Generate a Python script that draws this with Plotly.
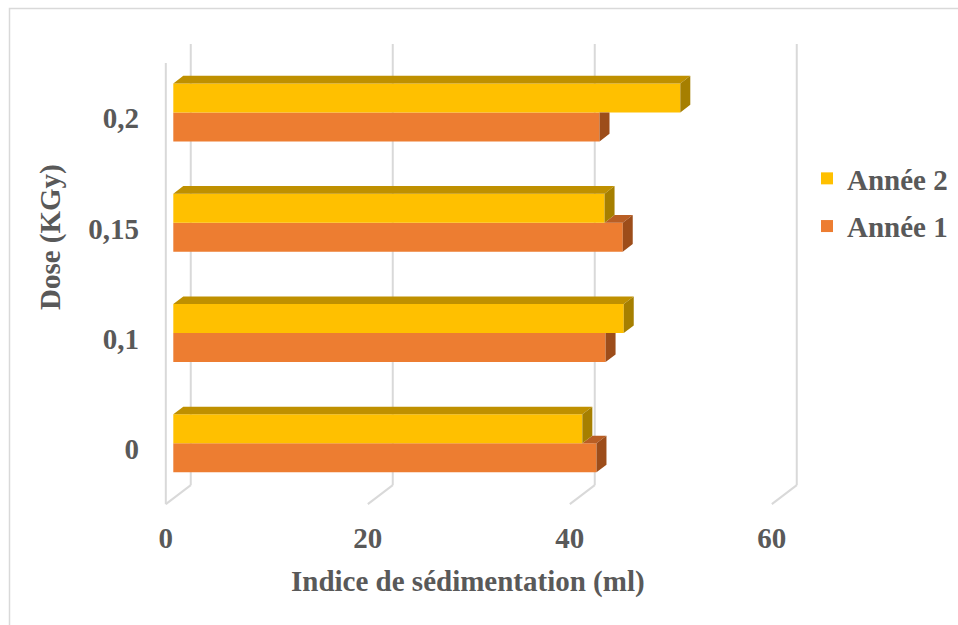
import plotly.graph_objects as go

# Sedimentation index (ml) by irradiation dose, two harvest years
doses = ["0", "0,1", "0,15", "0,2"]
annee_1 = [41.9, 42.8, 44.5, 42.2]
annee_2 = [40.5, 44.6, 42.7, 50.2]
x_ticks = [0, 20, 40, 60]

FONT = "Liberation Serif, Times New Roman, serif"
TEXT = "#595959"
GRID = "#D9D9D9"
W, H = 958, 625

# plot-area frame (pixels) and scale of the bar plane
L, R, T, B = 150, 820, 30, 515
X0_PX, X_PX = 173.3, 10.1    # pixel of x=0, pixels per ml
Y0_PX, Y_PX = 443.3, 110.3   # pixel of first dose, pixels per dose slot

x_range = [(L - X0_PX) / X_PX, (R - X0_PX) / X_PX]
y_range = [(Y0_PX - B) / Y_PX, (Y0_PX - T) / Y_PX]

# 3D box: depth vector from the front floor edge to the back wall (data units)
DEPTH_X, DEPTH_Y = 2.47, 0.172
FRONT, BACK, BAR_DEPTH = -0.3, 0.7, 0.4
THICK = 0.263                      # thickness of one bar
FLOOR, TOP = -0.5, len(doses) - 0.5

bdx, bdy = BAR_DEPTH * DEPTH_X, BAR_DEPTH * DEPTH_Y
pos = list(range(len(doses)))

C1, C1_TOP, C1_SIDE = "#ED7D31", "#B95E24", "#9D4D1A"
C2, C2_TOP, C2_SIDE = "#FFC000", "#BF9000", "#A67F00"


def px_to_paper(px, py):
    return (px - L) / (R - L), (B - py) / (B - T)


fig = go.Figure()

# front faces
fig.add_trace(go.Bar(y=pos, x=annee_1, orientation="h", name="Année 1",
                     marker=dict(color=C1, line=dict(width=0)),
                     legendgroup="a1", legendrank=2, hoverinfo="x+name"))
fig.add_trace(go.Bar(y=pos, x=annee_2, orientation="h", name="Année 2",
                     marker=dict(color=C2, line=dict(width=0)),
                     legendgroup="a2", legendrank=1, hoverinfo="x+name"))


def add_faces(polys, color):
    xs, ys = [], []
    for poly in polys:
        for px, py in poly:
            xs.append(px)
            ys.append(py)
        xs.append(poly[0][0])
        ys.append(poly[0][1])
        xs.append(None)
        ys.append(None)
    fig.add_trace(go.Scatter(x=xs, y=ys, mode="lines", fill="toself",
                             fillcolor=color, line=dict(width=0, color=color),
                             hoverinfo="skip", showlegend=False))


# Année 1 (lower bar): top face only visible beyond the upper bar, side clipped under it
a1_top, a1_side = [], []
for k, v1, v2 in zip(pos, annee_1, annee_2):
    if v1 > v2:
        a1_top.append([(v2, k), (v1, k), (v1 + bdx, k + bdy), (v2 + bdx, k + bdy)])
        a1_side.append([(v1, k - THICK), (v1, k), (v1 + bdx, k + bdy),
                        (v1 + bdx, k - THICK + bdy)])
    else:
        a1_side.append([(v1, k - THICK), (v1, k), (v1 + bdx, k),
                        (v1 + bdx, k - THICK + bdy)])
add_faces(a1_top, C1_TOP)
add_faces(a1_side, C1_SIDE)

# Année 2 (upper bar): full top and side faces
a2_top, a2_side = [], []
for k, v2 in zip(pos, annee_2):
    yt = k + THICK
    a2_top.append([(0, yt), (v2, yt), (v2 + bdx, yt + bdy), (bdx, yt + bdy)])
    a2_side.append([(v2, k), (v2, yt), (v2 + bdx, yt + bdy), (v2 + bdx, k + bdy)])
add_faces(a2_top, C2_TOP)
add_faces(a2_side, C2_SIDE)

# back-wall gridlines, floor edges and the front vertical edge
shapes = []
grid_line = dict(color=GRID, width=2)
bx, by = BACK * DEPTH_X, BACK * DEPTH_Y
fx, fy = FRONT * DEPTH_X, FRONT * DEPTH_Y
for v in x_ticks:
    shapes.append(dict(type="line", xref="x", yref="y", layer="below",
                       x0=v + bx, y0=FLOOR + by, x1=v + bx, y1=TOP + by, line=grid_line))
    shapes.append(dict(type="line", xref="x", yref="y", layer="below",
                       x0=v + fx, y0=FLOOR + fy, x1=v + bx, y1=FLOOR + by, line=grid_line))
shapes.append(dict(type="line", xref="x", yref="y", layer="below",
                   x0=fx, y0=FLOOR + fy, x1=fx, y1=TOP + fy, line=grid_line))

# outer chart border
bx0, by0 = px_to_paper(9.5, 8.5)
bx1, by1 = px_to_paper(990, 660)
shapes.append(dict(type="rect", xref="paper", yref="paper", layer="below",
                   x0=bx0, y0=by1, x1=bx1, y1=by0, line=dict(color=GRID, width=1.5)))

font = dict(family=FONT, size=29, color=TEXT, weight="bold")

tx, ty = px_to_paper(468, 581)
yx, yy = px_to_paper(50, 237)
annotations = [
    dict(text="Indice de sédimentation (ml)", xref="paper", yref="paper",
         x=tx, y=ty, showarrow=False, font=font, xanchor="center", yanchor="middle"),
    dict(text="Dose (KGy)", xref="paper", yref="paper", textangle=-90,
         x=yx, y=yy, showarrow=False, font=font, xanchor="center", yanchor="middle"),
]

lx, ly = px_to_paper(807, 153)

fig.update_layout(
    width=W, height=H,
    margin=dict(l=L, r=W - R, t=T, b=H - B, pad=0, autoexpand=False),
    paper_bgcolor="white", plot_bgcolor="white",
    barmode="group", bargap=1 - 2 * THICK, bargroupgap=0,
    xaxis=dict(range=x_range, tickvals=[v + fx for v in x_ticks],
               ticktext=[str(v) for v in x_ticks], showgrid=False, zeroline=False,
               showline=False, ticks="", tickfont=font, fixedrange=True,
               ticklabelstandoff=3),
    yaxis=dict(range=y_range, tickvals=[k + fy for k in pos], ticktext=doses,
               showgrid=False, zeroline=False, showline=False, ticks="",
               tickfont=font, fixedrange=True, ticklabelstandoff=10),
    shapes=shapes,
    annotations=annotations,
    showlegend=True,
    legend=dict(x=lx, y=ly, xanchor="left", yanchor="top",
                traceorder="grouped",
                font=font, bgcolor="rgba(0,0,0,0)", tracegroupgap=7),
)

fig.write_html("out.html")
